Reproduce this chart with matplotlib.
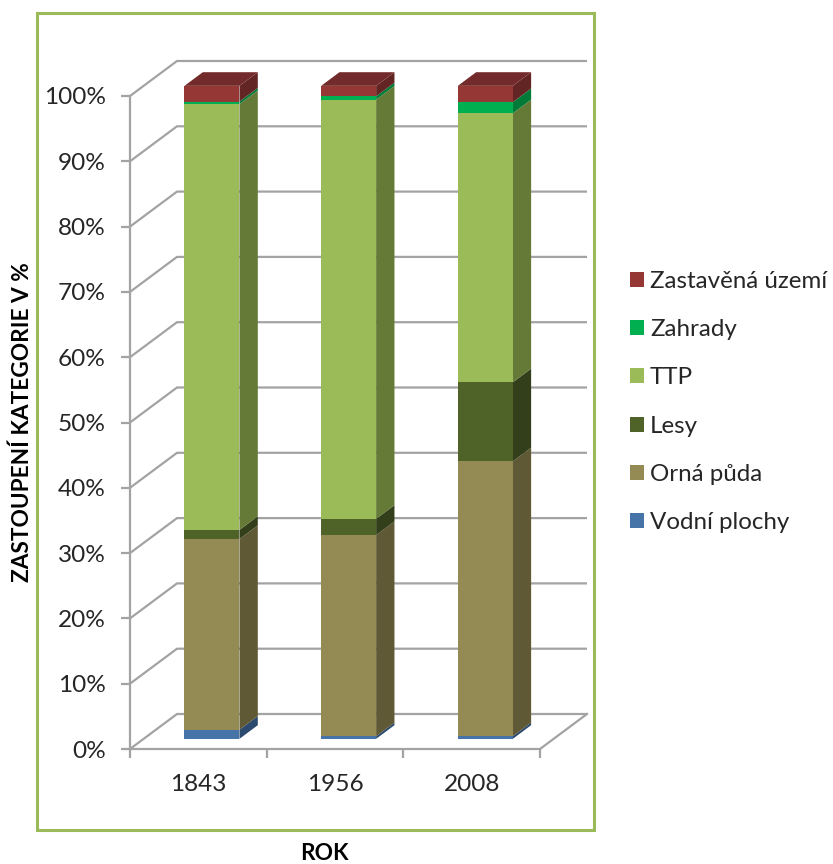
import matplotlib
matplotlib.use("Agg")
import matplotlib.pyplot as plt
from matplotlib.patches import Patch, Polygon, Rectangle

years = ["1843", "1956", "2008"]
series_names = ["Vodní plochy", "Orná půda", "Lesy", "TTP", "Zahrady", "Zastavěná území"]

# share of each category in percent
vodni = [1.4, 0.4, 0.4]
orna = [29.2, 30.8, 42.1]
lesy = [1.4, 2.5, 12.1]
ttp = [65.2, 64.2, 41.2]
zahrady = [0.4, 0.5, 1.7]
zastavena = [2.4, 1.6, 2.5]
all_series = [vodni, orna, lesy, ttp, zahrady, zastavena]

front_colors = ["#4674A9", "#948A54", "#4F6228", "#9BBB59", "#00B050", "#953735"]
side_colors = ["#2C4A6E", "#5F5935", "#333F1A", "#647A36", "#007A37", "#632523"]
top_color = "#722B2A"
grid_color = "#A3A3A3"
text_color = "#262626"

plt.rcParams["font.family"] = ["Lato", "DejaVu Sans"]

W, H = 833, 864
fig = plt.figure(figsize=(W / 100, H / 100), dpi=100)

# border round the whole chart
fig.add_artist(Rectangle((37 / W, 1 - 830 / H), 557 / W, 817 / H, transform=fig.transFigure,
                         fill=False, edgecolor="#9BBB59", linewidth=2.2))

ax = fig.add_axes([130 / W, 1 - 749 / H, 410 / W, 653 / H])
ax.set_xlim(0, 3)
ax.set_ylim(0, 100)
ax.patch.set_visible(False)

# depth of the box in data units
DX = 47.0 / (410 / 3)
DY = 35.0 / 6.53
BAR_W = 55 / (410 / 3)
D_FRONT = 0.29
D_BACK = 0.68


def proj(x, y, d):
    return (x + d * DX, y + d * DY)


# walls and floor
for pct in range(0, 101, 10):
    ax.plot([proj(0, pct, 0)[0], proj(0, pct, 1)[0], proj(3, pct, 1)[0]],
            [proj(0, pct, 0)[1], proj(0, pct, 1)[1], proj(3, pct, 1)[1]],
            color=grid_color, lw=1.6, clip_on=False, zorder=1, solid_capstyle="butt")
ax.plot([3, proj(3, 0, 1)[0]], [0, proj(3, 0, 1)[1]], color=grid_color, lw=1.6, clip_on=False, zorder=1)

# stacked bars, drawn bottom up
for i in range(len(years)):
    x0 = i + 0.5 - BAR_W / 2
    x1 = x0 + BAR_W
    base = 0
    for s, values in enumerate(all_series):
        top = base + values[i]
        front = [proj(x0, base, D_FRONT), proj(x1, base, D_FRONT), proj(x1, top, D_FRONT), proj(x0, top, D_FRONT)]
        side = [proj(x1, base, D_FRONT), proj(x1, base, D_BACK), proj(x1, top, D_BACK), proj(x1, top, D_FRONT)]
        ax.add_patch(Polygon(side, closed=True, fc=side_colors[s], ec="none", clip_on=False, zorder=3))
        ax.add_patch(Polygon(front, closed=True, fc=front_colors[s], ec="none", clip_on=False, zorder=3))
        base = top
    lid = [proj(x0, base, D_FRONT), proj(x1, base, D_FRONT), proj(x1, base, D_BACK), proj(x0, base, D_BACK)]
    ax.add_patch(Polygon(lid, closed=True, fc=top_color, ec="none", clip_on=False, zorder=3))

# axes
for name in ["top", "right"]:
    ax.spines[name].set_visible(False)
for name in ["left", "bottom"]:
    ax.spines[name].set_color(grid_color)
    ax.spines[name].set_linewidth(1.6)
ax.set_yticks(range(0, 101, 10))
ax.set_yticklabels([f"{p}%" for p in range(0, 101, 10)], fontsize=17.6, color=text_color)
ax.set_xticks([0, 1, 2, 3])
ax.set_xticklabels([])
ax.set_xticks([0.5, 1.5, 2.5], minor=True)
ax.set_xticklabels(years, minor=True, fontsize=17.6, color=text_color)
ax.tick_params(axis="y", length=6.5, width=1.6, color=grid_color, pad=11)
ax.tick_params(axis="x", which="major", length=6.5, width=1.6, color=grid_color)
ax.tick_params(axis="x", which="minor", length=0, pad=18)

fig.text(22 / W, 1 - 422 / H, "ZASTOUPENÍ KATEGORIE V %", rotation=90, ha="center", va="center",
         fontsize=16.3, fontweight="bold", color="black")
fig.text(324 / W, 1 - 853 / H, "ROK", ha="center", va="center",
         fontsize=16.3, fontweight="bold", color="black")

handles = [Patch(fc=c, ec="none") for c in front_colors[::-1]]
fig.legend(handles, series_names[::-1], loc="center left", bbox_to_anchor=(630 / W, 1 - 402 / H),
           frameon=False, fontsize=17.4, labelcolor=text_color, handlelength=0.58, handleheight=0.58,
           handletextpad=0.25, labelspacing=1.13, borderpad=0, borderaxespad=0)

fig.savefig("out.png", dpi=100)
